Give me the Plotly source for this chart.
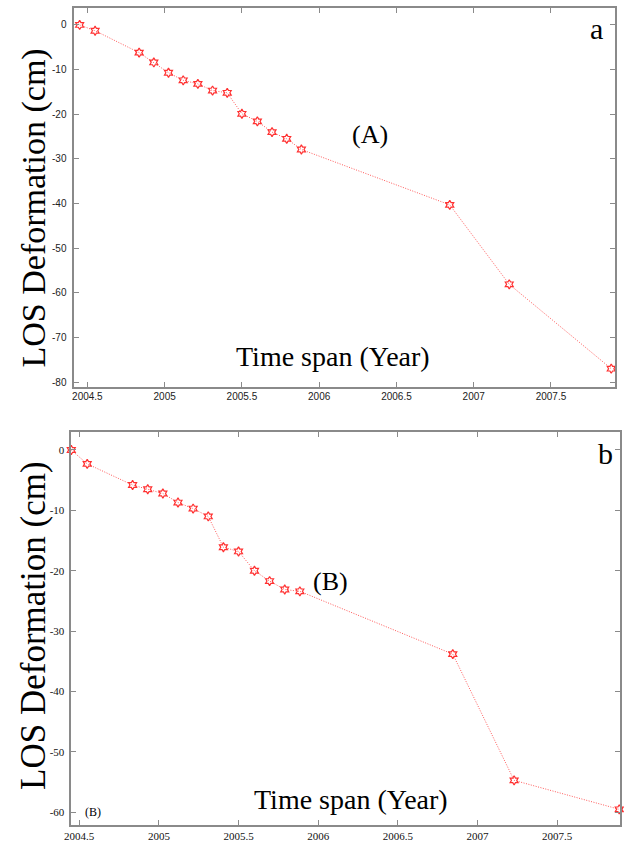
import plotly.graph_objects as go

# ---- data ----
years = [2004.45, 2004.55, 2004.835, 2004.93, 2005.025, 2005.12, 2005.215, 2005.31,
         2005.405, 2005.50, 2005.60, 2005.695, 2005.79, 2005.885, 2006.845, 2007.23, 2007.89]
los_a = [0, -1.3, -6.2, -8.4, -10.7, -12.4, -13.2, -14.7, -15.2, -19.9, -21.6, -24.0,
         -25.5, -27.9, -40.3, -58.1, -77.0]
los_b = [0, -2.3, -5.8, -6.5, -7.2, -8.7, -9.7, -11.0, -16.1, -16.8, -20.0, -21.7,
         -23.1, -23.4, -33.8, -54.7, -59.5]

x_tick_vals = [2004.5, 2005, 2005.5, 2006, 2006.5, 2007, 2007.5]
x_tick_text = ["2004.5", "2005", "2005.5", "2006", "2006.5", "2007", "2007.5"]
y_tick_vals_a = [0, -10, -20, -30, -40, -50, -60, -70, -80]
y_tick_text_a = ["0", "-10", "-20", "-30", "-40", "-50", "-60", "-70", "-80"]
y_tick_vals_b = [0, -10, -20, -30, -40, -50, -60]
y_tick_text_b = ["0", "-10", "-20", "-30", "-40", "-50", "-60"]

W, H = 624, 845
SERIF = "Liberation Serif, Times New Roman, serif"
SANS_N = "Liberation Sans Narrow, Arial Narrow, Liberation Sans, Arial, sans-serif"
RED = "#ff3030"
LINE_RED = "#ff5a5a"
AXC = "#8a8a8a"

fig = go.Figure()
for ys, xa, ya in [(los_a, "x", "y"), (los_b, "x2", "y2")]:
    fig.add_trace(go.Scatter(
        x=years, y=ys, xaxis=xa, yaxis=ya, mode="lines+markers",
        line=dict(color=LINE_RED, width=1, dash="1px,1.5px"),
        marker=dict(symbol="hexagram-open", size=7, color=RED, line=dict(width=1.2, color=RED)),
        showlegend=False, cliponaxis=False,
    ))


def px_x(p):
    return p / W


def px_y(p):
    return 1 - p / H


common = dict(showgrid=False, zeroline=False, showline=True, linecolor=AXC, linewidth=1.5,
              mirror="ticks", ticks="inside", ticklen=5, tickcolor=AXC, tickwidth=1)

fig.update_layout(
    width=W, height=H, margin=dict(l=0, r=0, t=0, b=0),
    paper_bgcolor="white", plot_bgcolor="white",
    xaxis=dict(domain=[px_x(68), px_x(615)], range=[2004.415, 2007.915], anchor="y",
               tickvals=x_tick_vals, ticktext=x_tick_text,
               tickfont=dict(family=SANS_N, size=10, color="#222"), **common),
    yaxis=dict(domain=[px_y(387), px_y(8)], range=[-81.0, 3.8], anchor="x",
               tickvals=y_tick_vals_a, ticktext=y_tick_text_a, ticklabelstandoff=4,
               tickfont=dict(family=SANS_N, size=10, color="#222"), **common),
    xaxis2=dict(domain=[px_x(65), px_x(620)], range=[2004.45, 2007.895], anchor="y2",
                tickvals=x_tick_vals, ticktext=x_tick_text,
                tickfont=dict(family=SERIF, size=11, color="#111"), **common),
    yaxis2=dict(domain=[px_y(826), px_y(433)], range=[-62.1, 2.9], anchor="x2",
                tickvals=y_tick_vals_b, ticktext=y_tick_text_b, ticklabelstandoff=3,
                tickfont=dict(family=SERIF, size=11, color="#111"), **common),
)

ann = [
    dict(text="LOS Deformation (cm)", xref="paper", yref="paper", x=px_x(27), y=px_y(208),
         textangle=-90, font=dict(family=SERIF, size=34, color="black")),
    dict(text="LOS Deformation (cm)", xref="paper", yref="paper", x=px_x(27), y=px_y(626),
         textangle=-90, font=dict(family=SERIF, size=35, color="black")),
    dict(text="Time span (Year)", xref="x", yref="y", x=2006.09, y=-74.3,
         font=dict(family=SERIF, size=28, color="black")),
    dict(text="(A)", xref="x", yref="y", x=2006.33, y=-24.6,
         font=dict(family=SERIF, size=26, color="black")),
    dict(text="a", xref="x", yref="y", x=2007.795, y=-0.9,
         font=dict(family=SERIF, size=30, color="black")),
    dict(text="Time span (Year)", xref="x2", yref="y2", x=2006.205, y=-57.9,
         font=dict(family=SERIF, size=28, color="black")),
    dict(text="(B)", xref="x2", yref="y2", x=2006.078, y=-21.8,
         font=dict(family=SERIF, size=26, color="black")),
    dict(text="b", xref="x2", yref="y2", x=2007.805, y=-0.6,
         font=dict(family=SERIF, size=30, color="black")),
    dict(text="(B)", xref="x2", yref="y2", x=2004.586, y=-59.9,
         font=dict(family=SERIF, size=12, color="black")),
]
for a in ann:
    a.update(showarrow=False, xanchor="center", yanchor="middle")
fig.update_layout(annotations=ann)

fig.write_html(
    "out.html",
    config={"displayModeBar": False},
    post_script="document.body.style.margin='0';document.body.style.overflow='hidden';",
)
